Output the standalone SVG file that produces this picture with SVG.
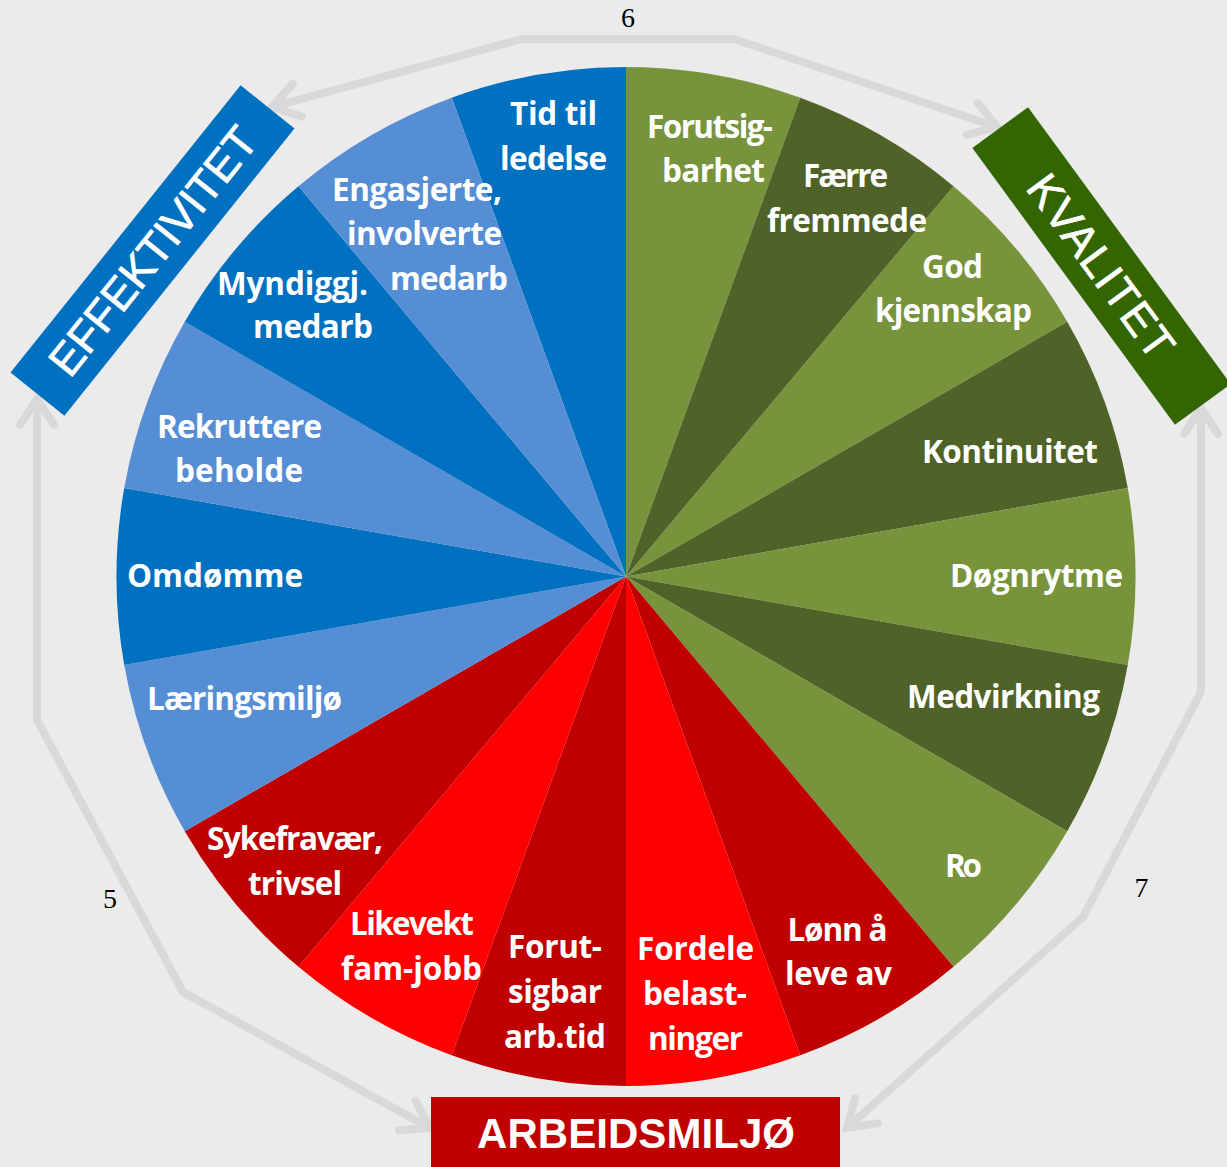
<svg xmlns="http://www.w3.org/2000/svg" width="1227" height="1167" viewBox="0 0 1227 1167">
<defs>
<style>
.bg{fill:#EBEBEB}
.arr{fill:none;stroke:#D9D9D9;stroke-width:8;stroke-linejoin:miter}
.num{font-family:"Liberation Serif","Times New Roman",serif;font-size:28px;fill:#000;text-anchor:middle}
.lbl{font-family:"Open Sans","Liberation Sans",sans-serif;font-weight:700;font-size:31.5px;fill:#fff;text-anchor:middle}
.ttl{font-family:"Liberation Sans",Arial,sans-serif;fill:#fff;text-anchor:middle}
.thin{stroke:#fff;stroke-width:0.7}
.lg{fill:#77933C}.dg{fill:#4F6228}.dr{fill:#C00000}.br{fill:#FF0000}.lb{fill:#558ED5}.db{fill:#0070C0}
</style>
<marker id="ah" markerUnits="userSpaceOnUse" viewBox="-40 -30 50 60" markerWidth="50" markerHeight="60" refX="0" refY="0" orient="auto-start-reverse" overflow="visible">
<path d="M-26,-17 L0,0 L-26,17" fill="none" stroke="#D9D9D9" stroke-width="8" stroke-linecap="round" stroke-linejoin="miter"/>
</marker>
</defs>
<rect class="bg" x="0" y="0" width="1227" height="1167"/>

<g id="connectors">
<path class="arr" marker-start="url(#ah)" marker-end="url(#ah)" d="M272,107 L522,39 L734,39 L997,127"/>
<path class="arr" marker-start="url(#ah)" marker-end="url(#ah)" d="M430,1128 L183,992 L37,720 L37,399"/>
<path class="arr" marker-start="url(#ah)" marker-end="url(#ah)" d="M847,1128 L1083,917 L1201,692 L1201,408"/>
<text class="num" x="628" y="27">6</text>
<text class="num" x="110" y="908">5</text>
<text class="num" x="1141.5" y="897">7</text>
</g>

<g id="seg-forutsigbarhet"><path class="lg" d="M626,576.5 L626,67 A509.5,509.5 0 0 1 800.26,97.73 Z"/>
<text class="lbl" x="710" y="138" textLength="126">Forutsig-</text><text class="lbl" x="713.5" y="182" textLength="103">barhet</text></g>
<g id="seg-god-kjennskap"><path class="lg" d="M626,576.5 L953.5,186.2 A509.5,509.5 0 0 1 1067.24,321.75 Z"/>
<text class="lbl" x="952.5" y="278" textLength="61">God</text><text class="lbl" x="953.5" y="322" textLength="157">kjennskap</text></g>
<g id="seg-faerre-fremmede"><path class="dg" d="M626,576.5 L800.26,97.73 A509.5,509.5 0 0 1 953.5,186.2 Z"/>
<text class="lbl" x="845.5" y="187" textLength="85">Færre</text><text class="lbl" x="847" y="232" textLength="160">fremmede</text></g>
<g id="seg-kontinuitet"><path class="dg" d="M626,576.5 L1067.24,321.75 A509.5,509.5 0 0 1 1127.76,488.03 Z"/>
<text class="lbl" x="1010" y="463" textLength="176">Kontinuitet</text></g>
<g id="seg-dognrytme"><path class="lg" d="M626,576.5 L1127.76,488.03 A509.5,509.5 0 0 1 1127.76,664.97 Z"/>
<text class="lbl" x="1036.5" y="587" textLength="173">Døgnrytme</text></g>
<g id="seg-medvirkning"><path class="dg" d="M626,576.5 L1127.76,664.97 A509.5,509.5 0 0 1 1067.24,831.25 Z"/>
<text class="lbl" x="1003.5" y="708" textLength="193">Medvirkning</text></g>
<g id="seg-ro"><path class="lg" d="M626,576.5 L1067.24,831.25 A509.5,509.5 0 0 1 953.5,966.8 Z"/>
<text class="lbl" x="963.5" y="877" textLength="37">Ro</text></g>

<g id="seg-lonn"><path class="dr" d="M626,576.5 L953.5,966.8 A509.5,509.5 0 0 1 800.26,1055.27 Z"/>
<text class="lbl" x="837.5" y="941" textLength="100">Lønn å</text><text class="lbl" x="838.5" y="985" textLength="107">leve av</text></g>
<g id="seg-fordele"><path class="br" d="M626,576.5 L800.26,1055.27 A509.5,509.5 0 0 1 626,1086 Z"/>
<text class="lbl" x="695.5" y="960" textLength="117">Fordele</text><text class="lbl" x="695" y="1005" textLength="104">belast-</text><text class="lbl" x="695.5" y="1050" textLength="95">ninger</text></g>
<g id="seg-forutsigbar"><path class="dr" d="M626,576.5 L626,1086 A509.5,509.5 0 0 1 451.74,1055.27 Z"/>
<text class="lbl" x="555" y="958" textLength="94">Forut-</text><text class="lbl" x="555" y="1003" textLength="94">sigbar</text><text class="lbl" x="555" y="1048" textLength="102">arb.tid</text></g>
<g id="seg-likevekt"><path class="br" d="M626,576.5 L451.74,1055.27 A509.5,509.5 0 0 1 298.5,966.8 Z"/>
<text class="lbl" x="412" y="935" textLength="124">Likevekt</text><text class="lbl" x="411.5" y="980" textLength="141">fam-jobb</text></g>
<g id="seg-sykefravaer"><path class="dr" d="M626,576.5 L298.5,966.8 A509.5,509.5 0 0 1 184.76,831.25 Z"/>
<text class="lbl" x="295" y="850" textLength="176">Sykefravær,</text><text class="lbl" x="295" y="895" textLength="94">trivsel</text></g>

<g id="seg-laeringsmiljo"><path class="lb" d="M626,576.5 L184.76,831.25 A509.5,509.5 0 0 1 124.24,664.97 Z"/>
<text class="lbl" x="244.5" y="710" textLength="195">Læringsmiljø</text></g>
<g id="seg-omdomme"><path class="db" d="M626,576.5 L124.24,664.97 A509.5,509.5 0 0 1 124.24,488.03 Z"/>
<text class="lbl" x="215" y="587" textLength="176">Omdømme</text></g>
<g id="seg-rekruttere"><path class="lb" d="M626,576.5 L124.24,488.03 A509.5,509.5 0 0 1 184.76,321.75 Z"/>
<text class="lbl" x="239.5" y="438" textLength="165">Rekruttere</text><text class="lbl" x="239" y="482" textLength="128">beholde</text></g>
<g id="seg-myndiggj"><path class="db" d="M626,576.5 L184.76,321.75 A509.5,509.5 0 0 1 298.5,186.2 Z"/>
<text class="lbl" x="292.5" y="295" textLength="151">Myndiggj.</text><text class="lbl" x="313" y="338" textLength="120">medarb</text></g>
<g id="seg-tid-til-ledelse"><path class="db" d="M626,576.5 L451.74,97.73 A509.5,509.5 0 0 1 626,67 Z"/>
<text class="lbl" x="553.5" y="125" textLength="87">Tid til</text><text class="lbl" x="553.5" y="170" textLength="107">ledelse</text></g>
<g id="seg-engasjerte"><path class="lb" d="M626,576.5 L298.5,186.2 A509.5,509.5 0 0 1 451.74,97.73 Z"/>
<text class="lbl" x="417" y="201" textLength="170">Engasjerte,</text><text class="lbl" x="424.5" y="245" textLength="155">involverte</text><text class="lbl" x="449" y="290" textLength="118">medarb</text></g>

<g id="effektivitet" transform="translate(152.5,250.5) rotate(-51.3)">
<rect x="-184" y="-34.5" width="368" height="69" fill="#0070C0"/>
<text class="ttl thin" x="0" y="16" font-size="44.5" textLength="304">EFFEKTIVITET</text>
</g>
<g id="kvalitet" transform="translate(1101.5,266) rotate(53.8)">
<rect x="-171.5" y="-34.5" width="343" height="69" fill="#336600"/>
<text class="ttl thin" x="0" y="16" font-size="44.5" textLength="216">KVALITET</text>
</g>
<g id="arbeidsmiljo">
<rect x="431" y="1097" width="409" height="75" fill="#C00000"/>
<text class="ttl" x="636" y="1148" font-size="42" font-weight="700" textLength="318">ARBEIDSMILJØ</text>
</g>
</svg>
